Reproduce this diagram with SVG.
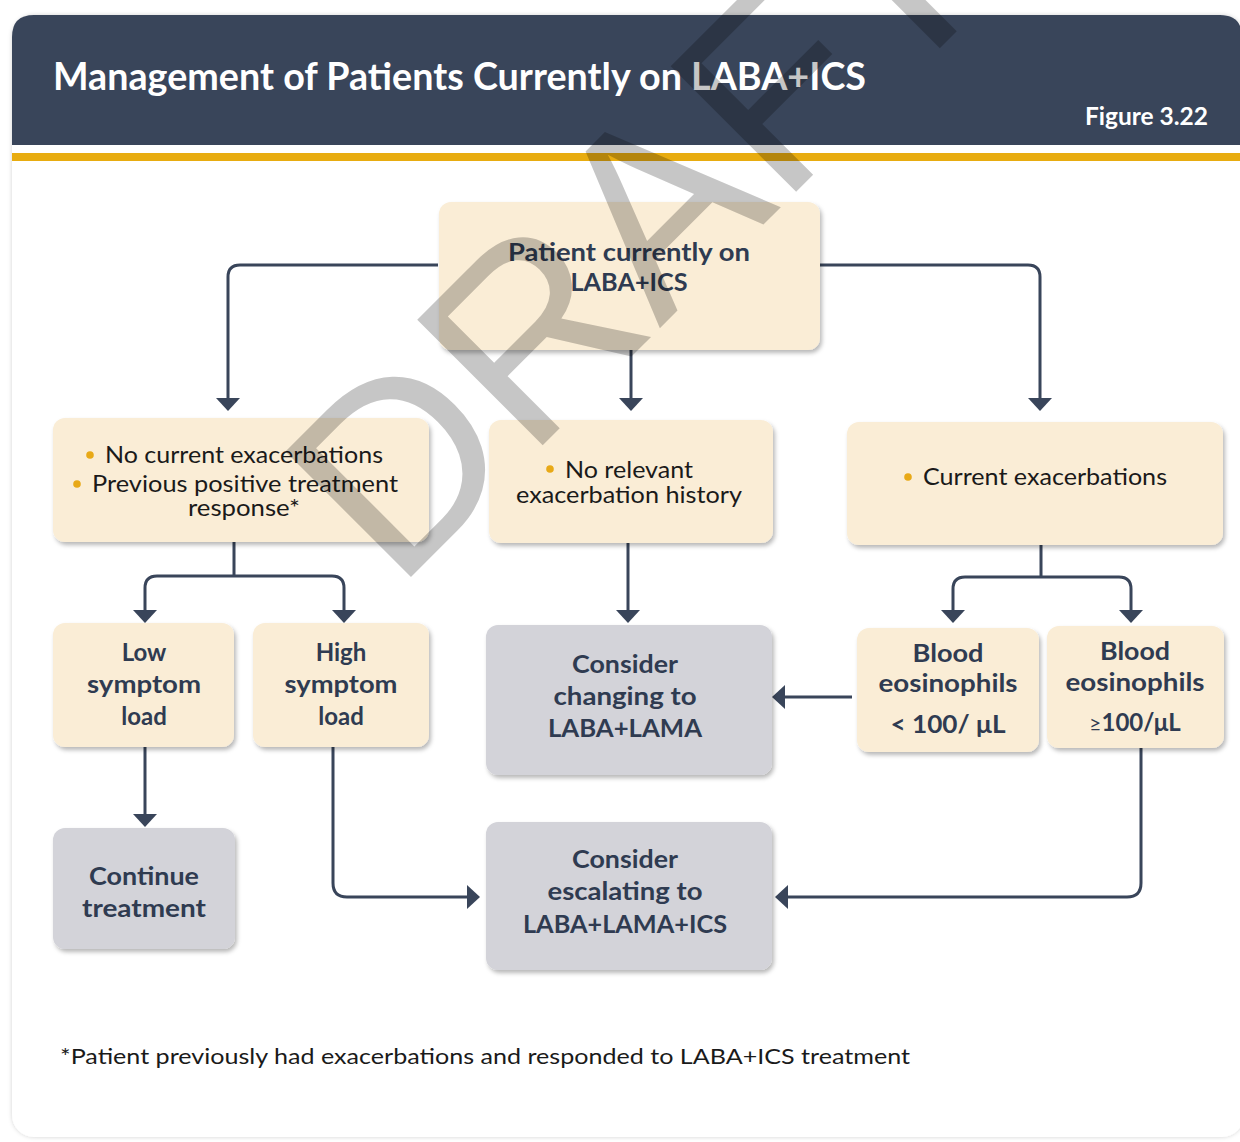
<svg xmlns="http://www.w3.org/2000/svg" width="1240" height="1142" viewBox="0 0 1240 1142">
  <defs>
    <filter id="shadow" x="-10%" y="-10%" width="125%" height="130%">
      <feDropShadow dx="2" dy="3" stdDeviation="2" flood-color="#000" flood-opacity="0.28"/>
    </filter>
    <filter id="cardShadow" x="-5%" y="-5%" width="110%" height="110%">
      <feDropShadow dx="0" dy="0" stdDeviation="2" flood-color="#000" flood-opacity="0.18"/>
    </filter>
  </defs>
  <style>
    .cream { fill: #faedd6; }
    .grey { fill: #d3d3d9; }
    .box { filter: url(#shadow); }
    .bold { font-family: Lato, "Liberation Sans", sans-serif; font-weight: 700; font-size: 24px; fill: #2f3b51; text-anchor: middle; }
    .body { font-family: Lato, "Liberation Sans", sans-serif; font-weight: 400; font-size: 23px; fill: #1a1a1a; }
    .dot { fill: #e8a917; }
    .wire { fill: none; stroke: #39455a; stroke-width: 3; }
    .head { fill: #39455a; }
  </style>

  <!-- page card -->
  <rect x="12" y="15" width="1232" height="1122" rx="22" fill="#ffffff" filter="url(#cardShadow)"/>
  <path d="M12,145 V37 Q12,15 34,15 H1220 Q1242,15 1242,37 V145 Z" fill="#39455a"/>
  <rect x="12" y="153" width="1232" height="8" fill="#e8ac10"/>
  <text x="53" y="90" font-family="Lato, 'Liberation Sans', sans-serif" font-weight="700" font-size="38" fill="#ffffff" textLength="813" lengthAdjust="spacingAndGlyphs">Management of Patients Currently on LABA+ICS</text>
  <text x="1085" y="125" font-family="Lato, 'Liberation Sans', sans-serif" font-weight="700" font-size="24" fill="#ffffff" textLength="123" lengthAdjust="spacingAndGlyphs">Figure 3.22</text>

  <!-- connectors -->
  <g id="connectors">
    <path class="wire" d="M438,265 H240 Q228,265 228,277 V399"/>
    <polygon class="head" points="216,398 240,398 228,411"/>
    <path class="wire" d="M820,265 H1028 Q1040,265 1040,277 V399"/>
    <polygon class="head" points="1028,398 1052,398 1040,411"/>
    <path class="wire" d="M631,350 V399"/>
    <polygon class="head" points="619,398 643,398 631,411"/>

    <path class="wire" d="M234,542 V576 M234,576 H157 Q145,576 145,588 V611 M234,576 H332 Q344,576 344,588 V611"/>
    <polygon class="head" points="133,610 157,610 145,623"/>
    <polygon class="head" points="332,610 356,610 344,623"/>

    <path class="wire" d="M628,543 V611"/>
    <polygon class="head" points="616,610 640,610 628,623"/>

    <path class="wire" d="M1041,545 V577 M1041,577 H965 Q953,577 953,589 V611 M1041,577 H1119 Q1131,577 1131,589 V611"/>
    <polygon class="head" points="941,610 965,610 953,623"/>
    <polygon class="head" points="1119,610 1143,610 1131,623"/>

    <path class="wire" d="M852,697 H784"/>
    <polygon class="head" points="785,685 785,709 772,697"/>

    <path class="wire" d="M145,747 V815"/>
    <polygon class="head" points="133,814 157,814 145,827"/>

    <path class="wire" d="M333,747 V883 Q333,897 347,897 H468"/>
    <polygon class="head" points="467,885 467,909 480,897"/>

    <path class="wire" d="M1141,748 V883 Q1141,897 1127,897 H787"/>
    <polygon class="head" points="788,885 788,909 775,897"/>
  </g>

  <!-- nodes -->
  <g id="node-start">
    <rect class="cream box" x="439" y="202" width="381" height="148" rx="12"/>
    <text class="bold" x="629" y="261" textLength="242" lengthAdjust="spacingAndGlyphs">Patient currently on</text>
    <text class="bold" x="629" y="291" textLength="117" lengthAdjust="spacingAndGlyphs">LABA+ICS</text>
  </g>

  <g id="node-no-current">
    <rect class="cream box" x="53" y="418" width="376" height="124" rx="12"/>
    <circle class="dot" cx="90" cy="455" r="3.8"/>
    <text class="body" x="105" y="463" textLength="278" lengthAdjust="spacingAndGlyphs">No current exacerbations</text>
    <circle class="dot" cx="77" cy="484" r="3.8"/>
    <text class="body" x="92" y="492" textLength="306" lengthAdjust="spacingAndGlyphs">Previous positive treatment</text>
    <text class="body" x="188" y="516" textLength="112" lengthAdjust="spacingAndGlyphs">response*</text>
  </g>

  <g id="node-no-history">
    <rect class="cream box" x="489" y="420" width="284" height="123" rx="12"/>
    <circle class="dot" cx="550" cy="469" r="3.8"/>
    <text class="body" x="565" y="478" textLength="128" lengthAdjust="spacingAndGlyphs">No relevant</text>
    <text class="body" x="516" y="503" textLength="226" lengthAdjust="spacingAndGlyphs">exacerbation history</text>
  </g>

  <g id="node-current">
    <rect class="cream box" x="847" y="422" width="376" height="123" rx="12"/>
    <circle class="dot" cx="908" cy="477" r="3.8"/>
    <text class="body" x="923" y="485" textLength="244" lengthAdjust="spacingAndGlyphs">Current exacerbations</text>
  </g>

  <g id="node-low">
    <rect class="cream box" x="53" y="623" width="181" height="124" rx="12"/>
    <text class="bold" x="144" y="661">Low</text>
    <text class="bold" x="144" y="693" textLength="114" lengthAdjust="spacingAndGlyphs">symptom</text>
    <text class="bold" x="144" y="725">load</text>
  </g>

  <g id="node-high">
    <rect class="cream box" x="253" y="623" width="176" height="124" rx="12"/>
    <text class="bold" x="341" y="661">High</text>
    <text class="bold" x="341" y="693" textLength="113" lengthAdjust="spacingAndGlyphs">symptom</text>
    <text class="bold" x="341" y="725">load</text>
  </g>

  <g id="node-change">
    <rect class="grey box" x="486" y="625" width="286" height="150" rx="12"/>
    <text class="bold" x="625" y="673" textLength="106" lengthAdjust="spacingAndGlyphs">Consider</text>
    <text class="bold" x="625" y="705" textLength="143" lengthAdjust="spacingAndGlyphs">changing to</text>
    <text class="bold" x="625" y="737" textLength="154" lengthAdjust="spacingAndGlyphs">LABA+LAMA</text>
  </g>

  <g id="node-eos-low">
    <rect class="cream box" x="857" y="628" width="182" height="124" rx="12"/>
    <text class="bold" x="948" y="662" textLength="71" lengthAdjust="spacingAndGlyphs">Blood</text>
    <text class="bold" x="948" y="692" textLength="139" lengthAdjust="spacingAndGlyphs">eosinophils</text>
    <text class="bold" x="948" y="733" textLength="115" lengthAdjust="spacingAndGlyphs">&lt; 100/ μL</text>
  </g>

  <g id="node-eos-high">
    <rect class="cream box" x="1047" y="626" width="177" height="122" rx="12"/>
    <text class="bold" x="1135" y="660" textLength="70" lengthAdjust="spacingAndGlyphs">Blood</text>
    <text class="bold" x="1135" y="691" textLength="139" lengthAdjust="spacingAndGlyphs">eosinophils</text>
    <text class="bold" x="1135" y="731"><tspan font-size="21" font-weight="400">≥</tspan>100/μL</text>
  </g>

  <g id="node-continue">
    <rect class="grey box" x="53" y="828" width="182" height="121" rx="12"/>
    <text class="bold" x="144" y="885" textLength="110" lengthAdjust="spacingAndGlyphs">Continue</text>
    <text class="bold" x="144" y="917" textLength="124" lengthAdjust="spacingAndGlyphs">treatment</text>
  </g>

  <g id="node-escalate">
    <rect class="grey box" x="486" y="822" width="286" height="148" rx="12"/>
    <text class="bold" x="625" y="868" textLength="106" lengthAdjust="spacingAndGlyphs">Consider</text>
    <text class="bold" x="625" y="900" textLength="155" lengthAdjust="spacingAndGlyphs">escalating to</text>
    <text class="bold" x="625" y="933" textLength="204" lengthAdjust="spacingAndGlyphs">LABA+LAMA+ICS</text>
  </g>

  <!-- footnote -->
  <text x="60" y="1064" font-family="Lato, 'Liberation Sans', sans-serif" font-size="22" fill="#1a1a1a" textLength="850" lengthAdjust="spacingAndGlyphs">*Patient previously had exacerbations and responded to LABA+ICS treatment</text>

  <!-- diagonal watermark -->
  <g opacity="0.22">
    <text x="396" y="592" transform="rotate(-45 396 592)" font-family="'Liberation Sans', sans-serif" font-size="258" fill="#000">DRAFT</text>
  </g>
</svg>
